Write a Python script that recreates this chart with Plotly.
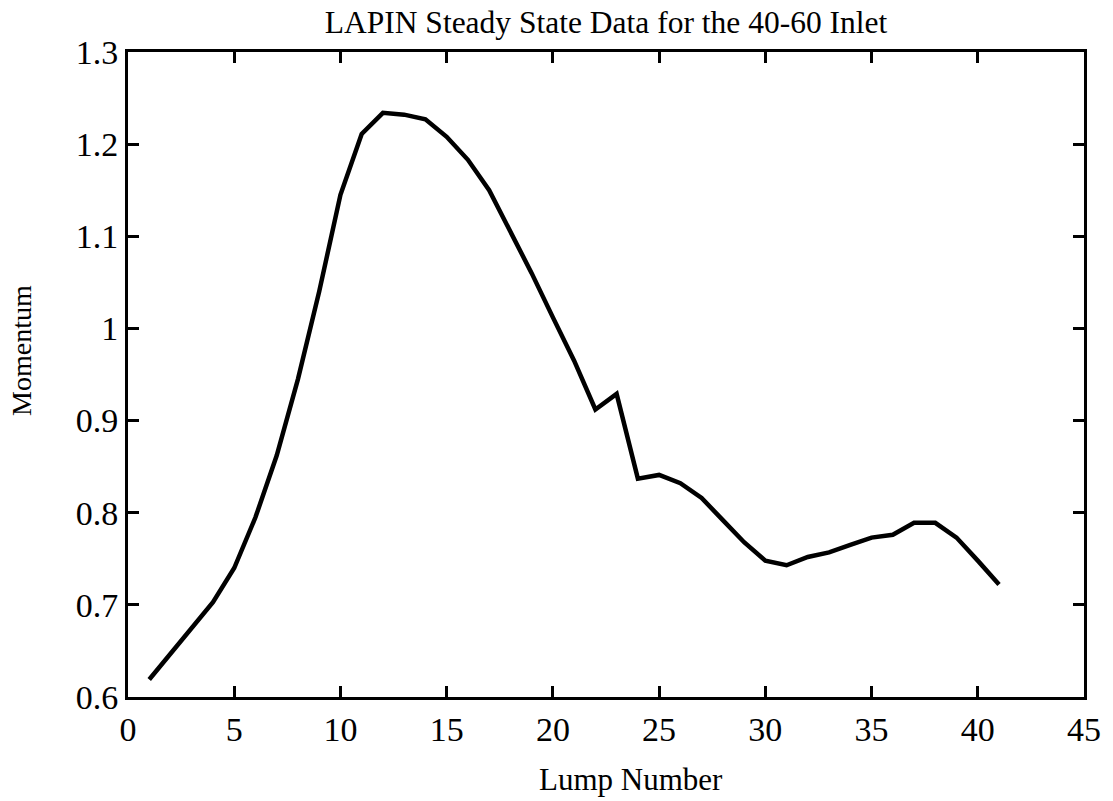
import plotly.graph_objects as go

lump_number = list(range(1, 42))
momentum = [0.619, 0.647, 0.676, 0.703, 0.740, 0.795, 0.862, 0.945, 1.040, 1.145,
            1.211, 1.234, 1.232, 1.227, 1.208, 1.183, 1.150, 1.105, 1.060, 1.012,
            0.965, 0.912, 0.929, 0.837, 0.841, 0.832, 0.816, 0.792, 0.768, 0.748,
            0.743, 0.752, 0.757, 0.765, 0.773, 0.776, 0.789, 0.789, 0.773, 0.748,
            0.722]

x_ticks = [0, 5, 10, 15, 20, 25, 30, 35, 40, 45]
y_ticks = [0.6, 0.7, 0.8, 0.9, 1.0, 1.1, 1.2, 1.3]
y_tick_text = ["0.6", "0.7", "0.8", "0.9", "1", "1.1", "1.2", "1.3"]

FONT = "Liberation Serif"
W, H = 1113, 801
L, R, T, B = 128, 21, 52, 104
PW, PH = W - L - R, H - T - B

fig = go.Figure()
fig.add_trace(go.Scatter(x=lump_number, y=momentum, mode="lines",
                         line=dict(color="black", width=4.5), showlegend=False,
                         hoverinfo="x+y"))

axis_common = dict(showline=True, linecolor="black", linewidth=3, mirror="ticks",
                   ticks="inside", ticklen=11, tickwidth=3, tickcolor="black",
                   showgrid=False, zeroline=False,
                   tickfont=dict(family=FONT, size=34, color="black"))

fig.update_layout(
    width=W, height=H,
    margin=dict(l=L, r=R, t=T, b=B),
    paper_bgcolor="white", plot_bgcolor="white",
    title=dict(text="LAPIN Steady State Data for the 40-60 Inlet",
               x=0.5, xanchor="center", xref="paper",
               y=1 - 22 / H, yanchor="middle", yref="container",
               font=dict(family=FONT, size=31.5, color="black")),
    xaxis=dict(range=[0, 45], tickvals=x_ticks, ticklabelstandoff=0, **axis_common),
    yaxis=dict(range=[0.6, 1.3], tickvals=y_ticks, ticktext=y_tick_text, **axis_common),
    annotations=[
        dict(text="Lump Number", xref="paper", yref="paper",
             x=(635 - L) / PW, y=(T + PH - 799) / PH,
             xanchor="center", yanchor="bottom", showarrow=False,
             font=dict(family=FONT, size=31, color="black")),
        dict(text="Momentum", xref="paper", yref="paper",
             x=(20 - L) / PW, y=(T + PH - 350) / PH, textangle=-90,
             xanchor="center", yanchor="middle", showarrow=False,
             font=dict(family=FONT, size=28, color="black")),
    ],
)

fig.write_html("out.html")
